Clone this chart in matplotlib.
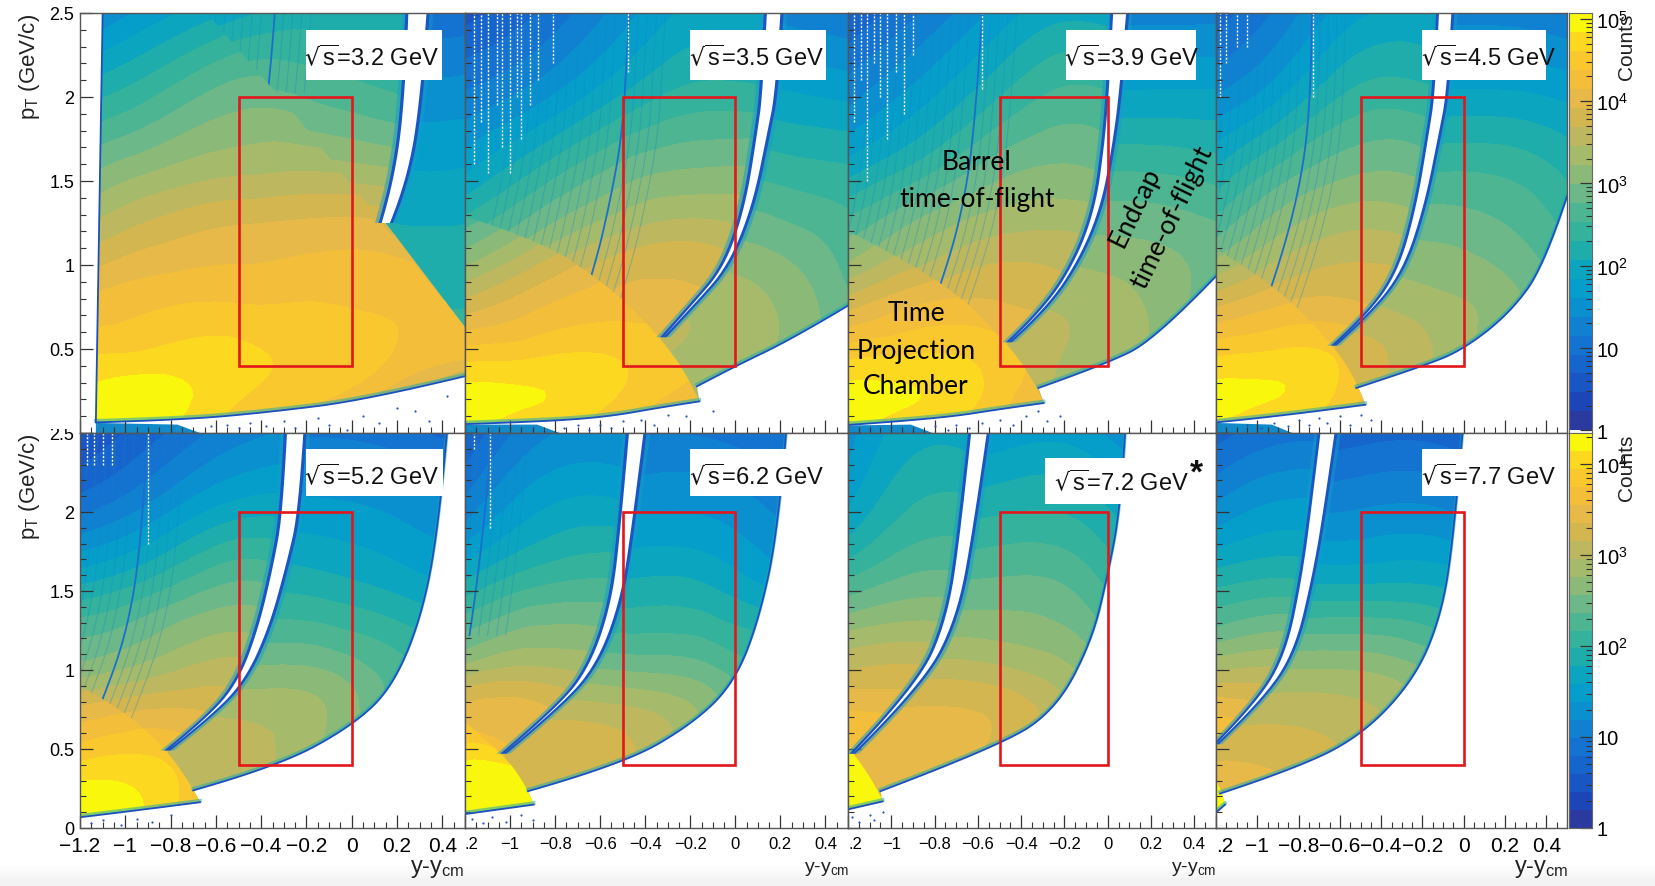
import numpy as np
import matplotlib

# no display in the sandbox
matplotlib.use('Agg')

import matplotlib.pyplot as plt
import matplotlib.tri as mtri
from matplotlib.patches import Polygon, Rectangle
from matplotlib.path import Path
from matplotlib.ticker import LogLocator, NullFormatter, FixedLocator, FixedFormatter
from matplotlib.transforms import Bbox

plt.rcParams['font.family'] = ['Liberation Sans', 'DejaVu Sans']
plt.rcParams['mathtext.default'] = 'regular'
plt.rcParams['axes.unicode_minus'] = True

W, H = 1656, 887

# stepped palette of the colour bars, low to high
bar_colors = ['#2b3a9e', '#1c46b8', '#1a55c4', '#1565cc', '#1472d0', '#1080d0', '#0a90cf',
              '#059dc9', '#0ca5bf', '#1fadac', '#34b29c', '#4db592', '#6db888', '#8bba78',
              '#a5ba6a', '#bdb860', '#d3b650', '#e6b948', '#f3bf3a', '#f8c82e', '#fdd820', '#f9f70c']

# grid of log10(counts), barrel + TPC side of the gap
left_cols = [-1.2, -0.9, -0.5, -0.2, 0.1, 0.5]
left_rows = [0.0, 0.25, 0.5, 0.75, 1.0, 1.25, 1.5, 2.0, 2.5]
# grid of log10(counts), endcap side of the gap
right_cols = [-1.2, -0.5, -0.1, 0.2, 0.5]
right_rows = [0.1, 0.5, 0.75, 1.0, 1.5, 2.0, 2.5]

left_32 = [[4.5, 4.7, 4.3, 4.0, 3.5, 2.8], [4.7, 4.85, 4.55, 4.4, 4.1, 3.3], [4.4, 4.5, 4.55, 4.45, 4.35, 4.2],
           [4.1, 4.25, 4.3, 4.3, 4.25, 4.1], [3.7, 3.95, 4.05, 4.1, 4.1, 3.9], [3.3, 3.6, 3.8, 3.85, 3.85, 3.6],
           [2.9, 3.2, 3.4, 3.45, 3.4, 3.2], [2.1, 2.4, 2.8, 2.75, 2.6, 2.4], [1.2, 1.6, 2.0, 2.2, 2.2, 2.1]]
left_35 = [[4.5, 4.35, 4.0, 3.6, 3.2, 3.0], [4.6, 4.55, 4.3, 4.0, 3.7, 3.5], [4.1, 4.2, 4.25, 4.15, 4.0, 3.8],
           [3.5, 3.8, 4.0, 4.0, 3.9, 3.7], [2.9, 3.35, 3.8, 3.85, 3.7, 3.5], [2.4, 2.85, 3.35, 3.5, 3.4, 3.2],
           [1.9, 2.4, 2.95, 3.1, 3.1, 2.9], [1.2, 1.5, 2.1, 2.4, 2.4, 2.3], [0.6, 0.9, 1.5, 1.9, 1.9, 1.8]]
left_39 = [[4.55, 4.4, 4.0, 3.5, 3.2, 3.0], [4.65, 4.6, 4.25, 3.8, 3.5, 3.3], [4.2, 4.3, 4.2, 4.0, 3.8, 3.6],
           [3.6, 3.9, 3.95, 3.85, 3.7, 3.5], [3.0, 3.4, 3.7, 3.65, 3.5, 3.3], [2.6, 3.0, 3.35, 3.4, 3.3, 3.1],
           [2.1, 2.5, 3.0, 3.1, 3.0, 2.8], [1.3, 1.7, 2.3, 2.6, 2.5, 2.3], [0.7, 1.1, 1.7, 2.0, 1.9, 1.8]]
left_45 = [[4.55, 4.4, 4.0, 3.5, 3.2, 3.0], [4.7, 4.65, 4.2, 3.7, 3.4, 3.2], [4.3, 4.4, 4.25, 3.9, 3.6, 3.4],
           [3.7, 3.95, 3.95, 3.8, 3.5, 3.3], [3.1, 3.5, 3.7, 3.6, 3.3, 3.1], [2.6, 3.1, 3.4, 3.3, 3.1, 2.9],
           [2.2, 2.7, 3.05, 3.0, 2.8, 2.6], [1.4, 1.8, 2.4, 2.4, 2.3, 2.1], [0.8, 1.2, 1.8, 1.9, 1.8, 1.7]]
left_52 = [[4.1, 3.9, 3.2, 3.0, 3.0, 3.0], [4.0, 3.9, 3.3, 3.0, 3.0, 3.0], [3.6, 3.7, 3.4, 3.2, 3.0, 3.0],
           [3.2, 3.35, 3.25, 3.1, 3.0, 3.0], [2.65, 2.85, 3.05, 2.9, 2.8, 2.7], [2.3, 2.5, 2.75, 2.6, 2.5, 2.4],
           [1.85, 2.1, 2.45, 2.3, 2.2, 2.1], [0.95, 1.25, 1.7, 1.7, 1.6, 1.5], [0.4, 0.7, 1.1, 1.2, 1.1, 1.0]]
left_62 = [[4.2, 4.2, 3.3, 3.0, 3.0, 3.0], [4.15, 4.2, 3.4, 3.0, 3.0, 3.0], [3.7, 3.55, 3.35, 3.0, 3.0, 3.0],
           [3.4, 3.4, 3.1, 3.0, 3.0, 3.0], [2.85, 3.0, 2.85, 2.8, 2.7, 2.6], [2.35, 2.6, 2.55, 2.4, 2.3, 2.2],
           [1.9, 2.2, 2.25, 2.1, 2.0, 1.9], [1.1, 1.55, 1.65, 1.5, 1.4, 1.4], [0.6, 1.1, 1.2, 1.1, 1.0, 1.0]]
left_72 = [[4.1, 3.6, 3.3, 3.0, 3.0, 3.0], [4.15, 3.65, 3.4, 3.0, 3.0, 3.0], [3.75, 3.75, 3.4, 3.1, 3.0, 3.0],
           [3.55, 3.5, 3.3, 3.1, 3.0, 3.0], [3.15, 3.2, 3.0, 2.9, 2.8, 2.7], [2.75, 2.85, 2.7, 2.6, 2.5, 2.4],
           [2.3, 2.5, 2.4, 2.2, 2.1, 2.0], [1.6, 2.0, 1.95, 1.7, 1.6, 1.5], [1.3, 1.7, 1.6, 1.4, 1.3, 1.2]]
left_77 = [[4.0, 3.6, 3.2, 3.0, 3.0, 3.0], [4.0, 3.6, 3.2, 3.0, 3.0, 3.0], [3.75, 3.6, 3.2, 3.0, 3.0, 3.0],
           [3.5, 3.4, 3.1, 2.9, 2.8, 2.8], [2.95, 3.0, 2.9, 2.7, 2.6, 2.5], [2.4, 2.55, 2.5, 2.3, 2.2, 2.1],
           [2.0, 2.1, 2.0, 1.9, 1.8, 1.7], [1.25, 1.45, 1.4, 1.3, 1.2, 1.2], [0.7, 0.9, 0.9, 0.8, 0.7, 0.7]]

right_32 = [[2.3, 2.3, 2.3, 2.3, 2.3], [2.4, 2.4, 2.4, 2.4, 2.4], [2.3, 2.3, 2.3, 2.3, 2.3], [2.2, 2.2, 2.2, 2.2, 2.2],
            [2.0, 2.0, 2.0, 1.9, 1.9], [1.6, 1.6, 1.6, 1.5, 1.5], [1.1, 1.1, 1.1, 1.0, 1.0]]
right_35 = [[3.5, 3.5, 3.3, 3.0, 2.5], [3.6, 3.5, 3.4, 3.2, 2.8], [3.5, 3.5, 3.4, 3.2, 2.8], [3.3, 3.3, 3.2, 3.05, 2.7],
            [2.6, 2.6, 2.6, 2.5, 2.4], [2.0, 2.0, 2.0, 1.9, 1.8], [1.4, 1.4, 1.4, 1.3, 1.2]]
right_39 = [[3.5, 3.5, 3.3, 3.0, 2.4], [3.6, 3.6, 3.4, 3.2, 2.7], [3.5, 3.5, 3.4, 3.2, 2.8], [3.3, 3.3, 3.2, 3.1, 2.9],
            [2.6, 2.6, 2.6, 2.6, 2.5], [1.9, 1.9, 1.9, 1.9, 1.9], [1.3, 1.3, 1.3, 1.3, 1.3]]
right_45 = [[3.6, 3.6, 3.2, 2.8, 2.4], [3.75, 3.75, 3.4, 3.0, 2.6], [3.55, 3.5, 3.3, 3.1, 2.7], [3.2, 3.2, 3.1, 2.95, 2.6],
            [2.6, 2.6, 2.6, 2.55, 2.3], [1.9, 1.9, 1.9, 1.9, 1.8], [1.3, 1.3, 1.3, 1.3, 1.2]]
right_52 = [[3.1, 3.1, 2.7, 2.3, 2.0], [3.05, 3.05, 2.7, 2.3, 2.0], [2.95, 2.9, 2.75, 2.3, 2.0], [2.6, 2.6, 2.55, 2.25, 2.0],
            [1.95, 1.95, 1.9, 1.75, 1.6], [1.45, 1.45, 1.45, 1.35, 1.2], [0.9, 0.9, 0.95, 0.85, 0.7]]
right_62 = [[3.2, 3.1, 2.4, 2.0, 2.0], [3.3, 3.2, 2.6, 2.0, 2.0], [3.05, 3.0, 2.65, 2.1, 2.0], [2.6, 2.55, 2.4, 2.1, 2.0],
            [1.85, 1.85, 1.8, 1.55, 1.4], [1.35, 1.35, 1.35, 1.15, 1.0], [0.95, 0.95, 0.95, 0.8, 0.7]]
right_72 = [[3.5, 3.3, 2.8, 2.5, 2.5], [3.5, 3.3, 2.85, 2.5, 2.5], [3.35, 3.3, 2.85, 2.5, 2.5], [3.0, 3.0, 2.7, 2.3, 2.2],
            [2.4, 2.45, 2.3, 1.9, 1.8], [1.85, 1.95, 1.9, 1.55, 1.4], [1.3, 1.45, 1.45, 1.1, 1.0]]
right_77 = [[3.45, 3.2, 2.7, 2.5, 2.5], [3.3, 3.1, 2.7, 2.5, 2.5], [3.0, 3.0, 2.7, 2.5, 2.5], [2.7, 2.75, 2.5, 2.3, 2.2],
            [1.8, 1.85, 1.8, 1.6, 1.5], [1.15, 1.2, 1.2, 1.0, 0.9], [0.6, 0.7, 0.7, 0.5, 0.4]]

# lower edge of the TPC part, (y-ycm, pT)
lower_32 = [(-1.13, 0.065), (-0.75, 0.08), (-0.37, 0.125), (0.07, 0.2), (0.5, 0.34)]
lower_35 = [(-1.2, 0.055), (-0.85, 0.07), (-0.56, 0.10), (-0.33, 0.155), (-0.16, 0.19)]
lower_39 = [(-1.2, 0.05), (-0.78, 0.087), (-0.47, 0.15), (-0.296, 0.18)]
lower_45 = [(-1.2, 0.065), (-0.9, 0.10), (-0.477, 0.17)]
lower_52 = [(-1.2, 0.07), (-0.965, 0.11), (-0.67, 0.165)]
lower_62 = [(-1.2, 0.09), (-0.895, 0.15)]
lower_72 = [(-1.2, 0.12), (-1.04, 0.17)]
lower_77 = [(-1.2, 0.10), (-1.156, 0.15)]

# outer edge of the endcap part
edge_32 = []
edge_35 = [(-0.17, 0.28), (0.0, 0.40), (0.25, 0.56), (0.5, 0.76)]
edge_39 = [(-0.32, 0.27), (-0.012, 0.41), (0.22, 0.56), (0.5, 0.935)]
edge_45 = [(-0.52, 0.27), (-0.195, 0.40), (0.0, 0.5), (0.227, 0.72), (0.39, 1.0), (0.5, 1.41)]
edge_52 = [(-0.70, 0.24), (-0.33, 0.39), (0.0, 0.645), (0.185, 0.90), (0.32, 1.39), (0.39, 2.0), (0.42, 2.5)]
edge_62 = [(-0.92, 0.235), (-0.50, 0.405), (-0.19, 0.66), (-0.005, 0.92), (0.105, 1.32), (0.19, 1.89), (0.225, 2.5)]
edge_72 = [(-1.05, 0.235), (-0.50, 0.52), (-0.24, 0.75), (-0.075, 1.18), (0.0, 1.6), (0.06, 2.04), (0.08, 2.5)]
edge_77 = [(-1.18, 0.22), (-0.83, 0.37), (-0.5, 0.58), (-0.24, 0.94), (-0.11, 1.34), (-0.05, 1.83), (-0.006, 2.5)]

# boundary of the TPC wedge, from the left down to its tip
arc_32 = [(-1.10, 2.5), (-0.64, 2.5), (-0.26, 1.91), (0.127, 1.26), (0.5, 0.63)]
arc_35 = [(-1.2, 1.29), (-0.855, 1.14), (-0.59, 0.90), (-0.425, 0.70), (-0.32, 0.54), (-0.22, 0.36), (-0.16, 0.19)]
arc_39 = [(-1.2, 1.2), (-0.78, 0.935), (-0.457, 0.53), (-0.32, 0.26), (-0.296, 0.18)]
arc_45 = [(-1.2, 1.095), (-0.92, 0.89), (-0.63, 0.52), (-0.516, 0.30), (-0.477, 0.17)]
arc_52 = [(-1.2, 0.90), (-0.99, 0.73), (-0.815, 0.49), (-0.70, 0.25), (-0.67, 0.165)]
arc_62 = [(-1.2, 0.67), (-1.03, 0.47), (-0.926, 0.26), (-0.895, 0.15)]
arc_72 = [(-1.2, 0.51), (-1.10, 0.35), (-1.04, 0.17)]
arc_77 = [(-1.2, 0.30), (-1.17, 0.23), (-1.156, 0.15)]

# gap between barrel and endcap: centre line and half width
gap_32 = [(0.15, 1.25), (0.216, 1.5), (0.27, 2.0), (0.29, 2.5)]
gap_35 = [(-0.32, 0.57), (-0.19, 0.76), (-0.04, 0.99), (0.06, 1.35), (0.12, 1.79), (0.15, 2.03), (0.17, 2.5)]
gap_39 = [(-0.457, 0.54), (-0.288, 0.74), (-0.136, 1.04), (-0.044, 1.35), (0.0, 1.69), (0.03, 2.03), (0.055, 2.5)]
gap_45 = [(-0.63, 0.52), (-0.467, 0.70), (-0.307, 0.96), (-0.21, 1.35), (-0.144, 1.79), (-0.11, 2.03), (-0.09, 2.5)]
gap_52 = [(-0.815, 0.49), (-0.64, 0.69), (-0.49, 0.92), (-0.39, 1.26), (-0.315, 1.68), (-0.27, 2.0), (-0.25, 2.5)]
gap_62 = [(-1.03, 0.47), (-0.78, 0.77), (-0.63, 1.03), (-0.53, 1.43), (-0.485, 1.89), (-0.44, 2.5)]
gap_72 = [(-1.18, 0.47), (-0.87, 0.90), (-0.72, 1.32), (-0.65, 1.89), (-0.595, 2.5)]
gap_77 = [(-1.2, 0.53), (-0.99, 0.80), (-0.84, 1.11), (-0.76, 1.58), (-0.71, 2.0), (-0.66, 2.5)]

gap_half_32 = [0.018, 0.028, 0.034, 0.04]
gap_half_35 = [0.0, 0.003, 0.006, 0.015, 0.022, 0.028, 0.03]
gap_half_39 = [0.0, 0.003, 0.006, 0.012, 0.018, 0.024, 0.03]
gap_half_45 = [0.0, 0.0, 0.01, 0.018, 0.024, 0.028, 0.03]
gap_half_52 = [0.0, 0.002, 0.012, 0.022, 0.028, 0.034, 0.036]
gap_half_62 = [0.0, 0.002, 0.012, 0.018, 0.024, 0.032]
gap_half_72 = [0.0, 0.008, 0.02, 0.028, 0.036]
gap_half_77 = [0.0, 0.006, 0.018, 0.024, 0.03, 0.034]

# thin dead-strip streak in the barrel part, carried on under the TPC wedge
streak_32 = [(-0.37, 2.03), (-0.35, 2.3), (-0.34, 2.5)]
streak_35 = [(-0.74, 0.5), (-0.63, 0.96), (-0.56, 1.35), (-0.50, 1.79), (-0.48, 2.3), (-0.47, 2.5)]
streak_39 = [(-0.88, 0.5), (-0.755, 0.93), (-0.66, 1.39), (-0.61, 1.89), (-0.58, 2.5)]
streak_45 = [(-1.04, 0.5), (-0.92, 0.89), (-0.79, 1.47), (-0.74, 1.99), (-0.735, 2.5)]
streak_52 = [(-1.19, 0.5), (-1.09, 0.84), (-0.99, 1.26), (-0.93, 1.79), (-0.90, 2.5)]
streak_62 = [(-1.18, 1.22), (-1.12, 1.79), (-1.08, 2.5)]
streak_72 = []
streak_77 = []
streak_offsets = [-0.5, -0.46, -0.42, -0.38, -0.34, -0.3, -0.26, -0.22, -0.18, -0.14, -0.1, -0.06, 0.04, 0.08, 0.12, 0.16]

tpc_boost = [0.1, 0.3, 0.25, 0.2, 0.2, 0.3, 0.35, 0.3]
strip_end = [-0.67, -0.78, -0.81, -0.83, None, None, None, None]

# white holes in the sparse top-left part: position, lowest pT
hole_y_35 = [-1.16, -1.13, -1.096, -1.06, -1.037, -1.0, -0.97, -0.95, -0.91, -0.875, -0.81, -0.475]
hole_low_35 = [1.6, 1.85, 1.55, 1.95, 1.7, 1.55, 2.0, 1.75, 1.95, 2.1, 2.2, 2.15]
hole_y_39 = [-1.17, -1.14, -1.11, -1.08, -1.05, -1.02, -0.98, -0.94, -0.9, -0.58]
hole_low_39 = [1.85, 2.1, 1.5, 2.2, 2.0, 1.75, 2.15, 1.9, 2.25, 2.05]
hole_y_45 = [-1.18, -1.15, -1.1, -1.05, -0.73]
hole_low_45 = [2.0, 2.2, 2.3, 2.3, 2.0]
hole_y_52 = [-1.17, -1.14, -1.1, -1.06, -0.9]
hole_low_52 = [2.3, 2.3, 2.3, 2.3, 1.8]
hole_y_62 = [-1.16, -1.09]
hole_low_62 = [2.4, 1.9]

# stray counts below the acceptance
dots_32 = [(-0.62, 0.04), (-0.55, 0.05), (-0.5, 0.03), (-0.45, 0.06), (-0.38, 0.04), (-0.3, 0.07), (-0.25, 0.03),
           (-0.15, 0.09), (-0.1, 0.05), (-0.02, 0.02), (0.05, 0.1), (0.12, 0.06), (0.2, 0.15), (0.28, 0.13), (0.34, 0.07), (0.42, 0.22)]
dots_35 = [(-0.76, 0.03), (-0.7, 0.05), (-0.65, 0.02), (-0.6, 0.05), (-0.55, 0.03), (-0.5, 0.07), (-0.42, 0.08),
           (-0.36, 0.05), (-0.3, 0.11), (-0.22, 0.1), (-0.1, 0.13)]
dots_39 = [(-0.8, 0.04), (-0.74, 0.02), (-0.7, 0.05), (-0.64, 0.03), (-0.58, 0.06), (-0.5, 0.08), (-0.44, 0.05),
           (-0.38, 0.1), (-0.32, 0.13), (-0.28, 0.07), (-0.22, 0.1)]
dots_45 = [(-1.05, 0.05), (-0.98, 0.03), (-0.92, 0.06), (-0.85, 0.04), (-0.8, 0.08), (-0.75, 0.05), (-0.7, 0.09),
           (-0.66, 0.06), (-0.6, 0.1), (-0.55, 0.05), (-0.5, 0.11), (-0.45, 0.08)]
dots_52 = [(-1.15, 0.03), (-1.1, 0.05), (-1.02, 0.02), (-0.95, 0.06), (-0.88, 0.04), (-0.8, 0.08)]
dots_62 = [(-1.17, 0.06), (-1.12, 0.03), (-1.08, 0.07), (-1.02, 0.04), (-0.95, 0.08), (-0.9, 0.05)]
dots_72 = [(-1.18, 0.07), (-1.15, 0.04), (-1.1, 0.08), (-1.08, 0.05), (-1.04, 0.1)]
dots_77 = []

energies = ['3.2', '3.5', '3.9', '4.5', '5.2', '6.2', '7.2', '7.7']
xtick_vals = [-1.2, -1.0, -0.8, -0.6, -0.4, -0.2, 0.0, 0.2, 0.4]
xtick_text = ['−1.2', '−1', '−0.8', '−0.6', '−0.4', '−0.2', '0', '0.2', '0.4']
ytick_vals = [0.0, 0.5, 1.0, 1.5, 2.0, 2.5]
ytick_text = ['0', '0.5', '1', '1.5', '2', '2.5']

lefts = [left_32, left_35, left_39, left_45, left_52, left_62, left_72, left_77]
rights = [right_32, right_35, right_39, right_45, right_52, right_62, right_72, right_77]
lowers = [lower_32, lower_35, lower_39, lower_45, lower_52, lower_62, lower_72, lower_77]
edges = [edge_32, edge_35, edge_39, edge_45, edge_52, edge_62, edge_72, edge_77]
arcs = [arc_32, arc_35, arc_39, arc_45, arc_52, arc_62, arc_72, arc_77]
gaps = [gap_32, gap_35, gap_39, gap_45, gap_52, gap_62, gap_72, gap_77]
gap_halves = [gap_half_32, gap_half_35, gap_half_39, gap_half_45, gap_half_52, gap_half_62, gap_half_72, gap_half_77]
streaks = [streak_32, streak_35, streak_39, streak_45, streak_52, streak_62, streak_72, streak_77]
holes = [None, (hole_y_35, hole_low_35), (hole_y_39, hole_low_39), (hole_y_45, hole_low_45),
         (hole_y_52, hole_low_52), (hole_y_62, hole_low_62), None, None]
dots = [dots_32, dots_35, dots_39, dots_45, dots_52, dots_62, dots_72, dots_77]

col_px = [(80, 465), (465, 848), (848, 1216), (1216, 1567)]
row_px = [(14, 434), (434, 829)]
row_top = [5.07, 4.34]
xtick_size = [15, 12, 12, 15]


def px_axes(fig, x0, x1, y0, y1):
    return fig.add_axes([x0 / W, 1 - y1 / H, (x1 - x0) / W, (y1 - y0) / H])


def fig_text(fig, x, y, s, **kw):
    return fig.text(x / W, 1 - y / H, s, zorder=7, **kw)


def smooth(pts):
    # quadratic path through the read points, flattened by matplotlib
    pts = np.array(pts, dtype=float)
    if len(pts) < 3:
        return pts
    verts = [pts[0]]
    codes = [Path.MOVETO]
    for k in range(1, len(pts) - 1):
        end = pts[k + 1] if k == len(pts) - 2 else (pts[k] + pts[k + 1]) / 2
        verts += [pts[k], end]
        codes += [Path.CURVE3, Path.CURVE3]
    return Path(np.array(verts) * 1000, codes).to_polygons(closed_only=False)[0] / 1000


def band(line, half):
    pts = np.array(line)
    half = np.array(half)
    lo = smooth(np.c_[pts[:, 0] - half, pts[:, 1]])
    hi = smooth(np.c_[pts[:, 0] + half, pts[:, 1]])
    return np.r_[lo, hi[::-1]]


def draw_field(ax, cols, rows, grid, levels, clip, boost=0.0, zorder=1):
    xx, yy = np.meshgrid(cols, rows)
    tri = mtri.Triangulation(xx.ravel(), yy.ravel())
    fine_tri, fine_z = mtri.UniformTriRefiner(tri).refine_field(np.array(grid).ravel() + boost, subdiv=3)
    fine_z = np.clip(fine_z, levels[0] + 0.01, levels[-1] - 0.01)
    cs = ax.tricontourf(fine_tri, fine_z, levels=levels, colors=bar_colors, zorder=zorder)
    cs.set_clip_path(Polygon(clip, closed=True, transform=ax.transData))


def draw_panel(ax, i, top):
    levels = np.linspace(0, top, len(bar_colors) + 1)
    lower = smooth(lowers[i])
    edge = smooth(edges[i]) if edges[i] else np.zeros((0, 2))
    arc = np.array(arcs[i]) if i == 0 else smooth(arcs[i])
    gap = smooth(gaps[i])
    corner = arcs[i][0][0]
    top_left = np.array([[corner, 2.5]])

    outer = np.r_[lower, edge]
    if outer[-1, 1] < 2.5:
        outer = np.r_[outer, [[0.5, 2.5]]]
    outer = np.r_[outer, top_left]
    draw_field(ax, right_cols, right_rows, rights[i], levels, outer)

    low_arc = arc[arc[:, 1] < gap[0, 1]]
    left_poly = np.r_[lower, low_arc[::-1], gap, top_left]
    draw_field(ax, left_cols, left_rows, lefts[i], levels, left_poly, zorder=1.1)

    # streaks run under the TPC wedge
    if streaks[i]:
        s = smooth(streaks[i])
        for off in streak_offsets:
            ax.plot(s[:, 0] + off, s[:, 1], color='#1583c8', lw=0.8, alpha=0.32, zorder=1.2)
        ax.plot(s[:, 0], s[:, 1], color='#1a6fcc', lw=1.3, zorder=1.3)
    if holes[i]:
        ax.vlines(holes[i][0], holes[i][1], 2.5, color='white', lw=1.0, linestyles=(0, (1.5, 1.2)), zorder=1.4)

    wedge = np.r_[lower, arc[::-1]]
    draw_field(ax, left_cols, left_rows, lefts[i], levels, wedge, boost=tpc_boost[i], zorder=1.5)

    half = np.array(gap_halves[i])
    ax.fill(*band(gaps[i], half + 0.03).T, color='#159dc9', alpha=0.5, lw=0, zorder=1.6)
    ax.fill(*band(gaps[i], half + 0.014).T, color='#1a55c4', lw=0, zorder=1.65)
    ax.fill(*band(gaps[i], half).T, color='white', lw=0, zorder=1.7)

    # rim of the acceptance
    for c in (lower, edge):
        if len(c):
            ax.plot(c[:, 0], c[:, 1] + 0.008, color='#22aab0', lw=2.6, alpha=0.55, zorder=1.8)
            ax.plot(c[:, 0], c[:, 1] - 0.002, color='#1a50c0', lw=1.3, zorder=1.9)
    if corner > -1.2:
        ax.plot([corner, lower[0, 0]], [2.5, lower[0, 1]], color='#1a50c0', lw=1.3, zorder=1.9)

    if strip_end[i] is not None:
        ax.fill([lower[0, 0], strip_end[i], strip_end[i] - 0.1, lower[0, 0]],
                [0, 0, 0.05, lower[0, 1] - 0.005], color='#1289c9', lw=0, zorder=1)

    if dots[i]:
        d = np.array(dots[i])
        ax.scatter(d[:, 0], d[:, 1], s=2.5, color='#2b4fb8', lw=0, zorder=1.9)

    ax.add_patch(Rectangle((-0.5, 0.4), 0.5, 1.6, fill=False, ec='#e3161b', lw=1.9, zorder=3))

    ax.set_xlim(-1.2, 0.5)
    ax.set_ylim(0, 2.5)
    ax.set_xticks(xtick_vals)
    ax.set_xticks(np.arange(-1.2, 0.5, 0.05), minor=True)
    ax.set_yticks(ytick_vals)
    ax.set_yticks(np.arange(0, 2.5, 0.1), minor=True)
    ax.tick_params(which='major', direction='in', length=9.5, width=0.9, color='#333333')
    ax.tick_params(which='minor', direction='in', length=4.5, width=0.8, color='#333333')
    ax.tick_params(labelbottom=False, labelleft=False)
    for sp in ax.spines.values():
        sp.set_color('#555555')
        sp.set_linewidth(1.0)


fig = plt.figure(figsize=(W / 100, H / 100), dpi=100, facecolor='white')

# faint grey fade along the bottom of the slide
bg = fig.add_axes([0, 0, 1, 30 / H], zorder=-1)
bg.imshow(np.array([[1.0], [0.955]]), cmap='gray', vmin=0, vmax=1, aspect='auto', interpolation='bilinear')
bg.axis('off')

for i in range(8):
    row, col = i // 4, i % 4
    x0, x1 = col_px[col]
    y0, y1 = row_px[row]
    ax = px_axes(fig, x0, x1, y0, y1)
    draw_panel(ax, i, row_top[row])
    if row == 1:
        labels = list(xtick_text)
        if col > 0:
            labels[0] = '.2'
        ax.set_xticks(xtick_vals, labels)
        ax.tick_params(axis='x', labelbottom=True, labelsize=xtick_size[col], pad=6)
        if col > 0:
            ax.get_xticklabels()[0].set_ha('left')
    if col == 0:
        labels = list(ytick_text)
        if row == 0:
            labels[0] = ''
        ax.set_yticks(ytick_vals, labels)
        ax.tick_params(axis='y', labelleft=True, labelsize=13, pad=4)
        if row == 1:
            # upper panel row cuts the top label
            ax.get_yticklabels()[-1].set_clip_box(Bbox([[0, 0], [W, H - 430]]))
            ax.get_yticklabels()[-1].set_clip_on(True)

# colour bars
for row, top in enumerate(row_top):
    y0, y1 = row_px[row]
    cax = px_axes(fig, 1569, 1592, y0, y1)
    levels = 10 ** np.linspace(0, top, len(bar_colors) + 1)
    vals = np.arange(len(bar_colors))[:, None]
    cax.pcolormesh([0, 1], levels, vals, cmap=matplotlib.colors.ListedColormap(bar_colors), shading='flat')
    cax.set_yscale('log')
    cax.set_ylim(0.93 if row == 0 else 1, 10 ** top)
    cax.set_xlim(0, 1)
    cax.set_xticks([])
    majors = [1, 10, 100, 1000, 10000, 100000] if row == 0 else [1, 10, 100, 1000, 10000]
    names = ['1', '10', '$10^{2}$', '$10^{3}$', '$10^{4}$', '$10^{5}$']
    cax.yaxis.set_major_locator(FixedLocator(majors))
    cax.yaxis.set_major_formatter(FixedFormatter(names[:len(majors)]))
    cax.yaxis.set_minor_locator(LogLocator(base=10, subs=np.arange(2, 10), numticks=12))
    cax.yaxis.set_minor_formatter(NullFormatter())
    cax.tick_params(which='both', direction='in', left=False, right=True, labelleft=False, labelright=True,
                    color='#333333')
    cax.tick_params(which='major', length=9, width=0.9, labelsize=14.5, pad=3)
    cax.tick_params(which='minor', length=4.5, width=0.8)
    for sp in cax.spines.values():
        sp.set_color('#666666')

# energy labels
boxes = [(306, 442, 31, 81), (690, 826, 31, 81), (1066, 1196, 31, 81), (1422, 1546, 31, 81),
         (306, 443, 450, 497), (690, 826, 450, 497), (1045, 1215, 459, 505), (1422, 1553, 450, 497)]
text_x = [372, 757, 1132, 1489, 372, 757, 1122, 1489]
text_y = [58, 58, 58, 58, 477, 477, 483, 477]
for i in range(8):
    x0, x1, y0, y1 = boxes[i]
    fig.add_artist(Rectangle((x0 / W, 1 - y1 / H), (x1 - x0) / W, (y1 - y0) / H, transform=fig.transFigure,
                             fc='white', ec='none', zorder=6))
    fig_text(fig, text_x[i], text_y[i], r'$\sqrt{s}$=' + energies[i] + ' GeV', fontsize=17,
             ha='center', va='center', color='#111111')
fig_text(fig, 1196, 474, '*', fontsize=24, fontweight='bold', ha='center', va='center', color='#111111')

# detector names
note = dict(family=['Lato', 'DejaVu Sans'], fontsize=19, ha='center', va='center', color='black')
fig_text(fig, 977, 163, 'Barrel', **note)
fig_text(fig, 977, 200, 'time-of-flight', **note)
fig_text(fig, 916, 314, 'Time', **note)
fig_text(fig, 916, 352, 'Projection', **note)
fig_text(fig, 916, 387, 'Chamber', **note)
fig_text(fig, 1135, 207, 'Endcap', rotation=64, **note)
fig_text(fig, 1172, 218, 'time-of-flight', rotation=64, **note)

# axis titles
for y in (14, 434):
    fig_text(fig, 29, y, '$p_{T}$ (GeV/c)', fontsize=16, rotation=90, ha='center', va='top', color='#222222')
for x, size in zip((465, 850, 1217, 1569), (17, 14, 14, 17)):
    fig_text(fig, x, 869, 'y-y$_{cm}$', fontsize=size, ha='right', va='center', color='#222222')
for y in (14, 435):
    fig_text(fig, 1627, y, 'Counts', fontsize=15, rotation=90, ha='center', va='top', color='#222222')

fig.savefig('out.png', dpi=100)
plt.close(fig)
